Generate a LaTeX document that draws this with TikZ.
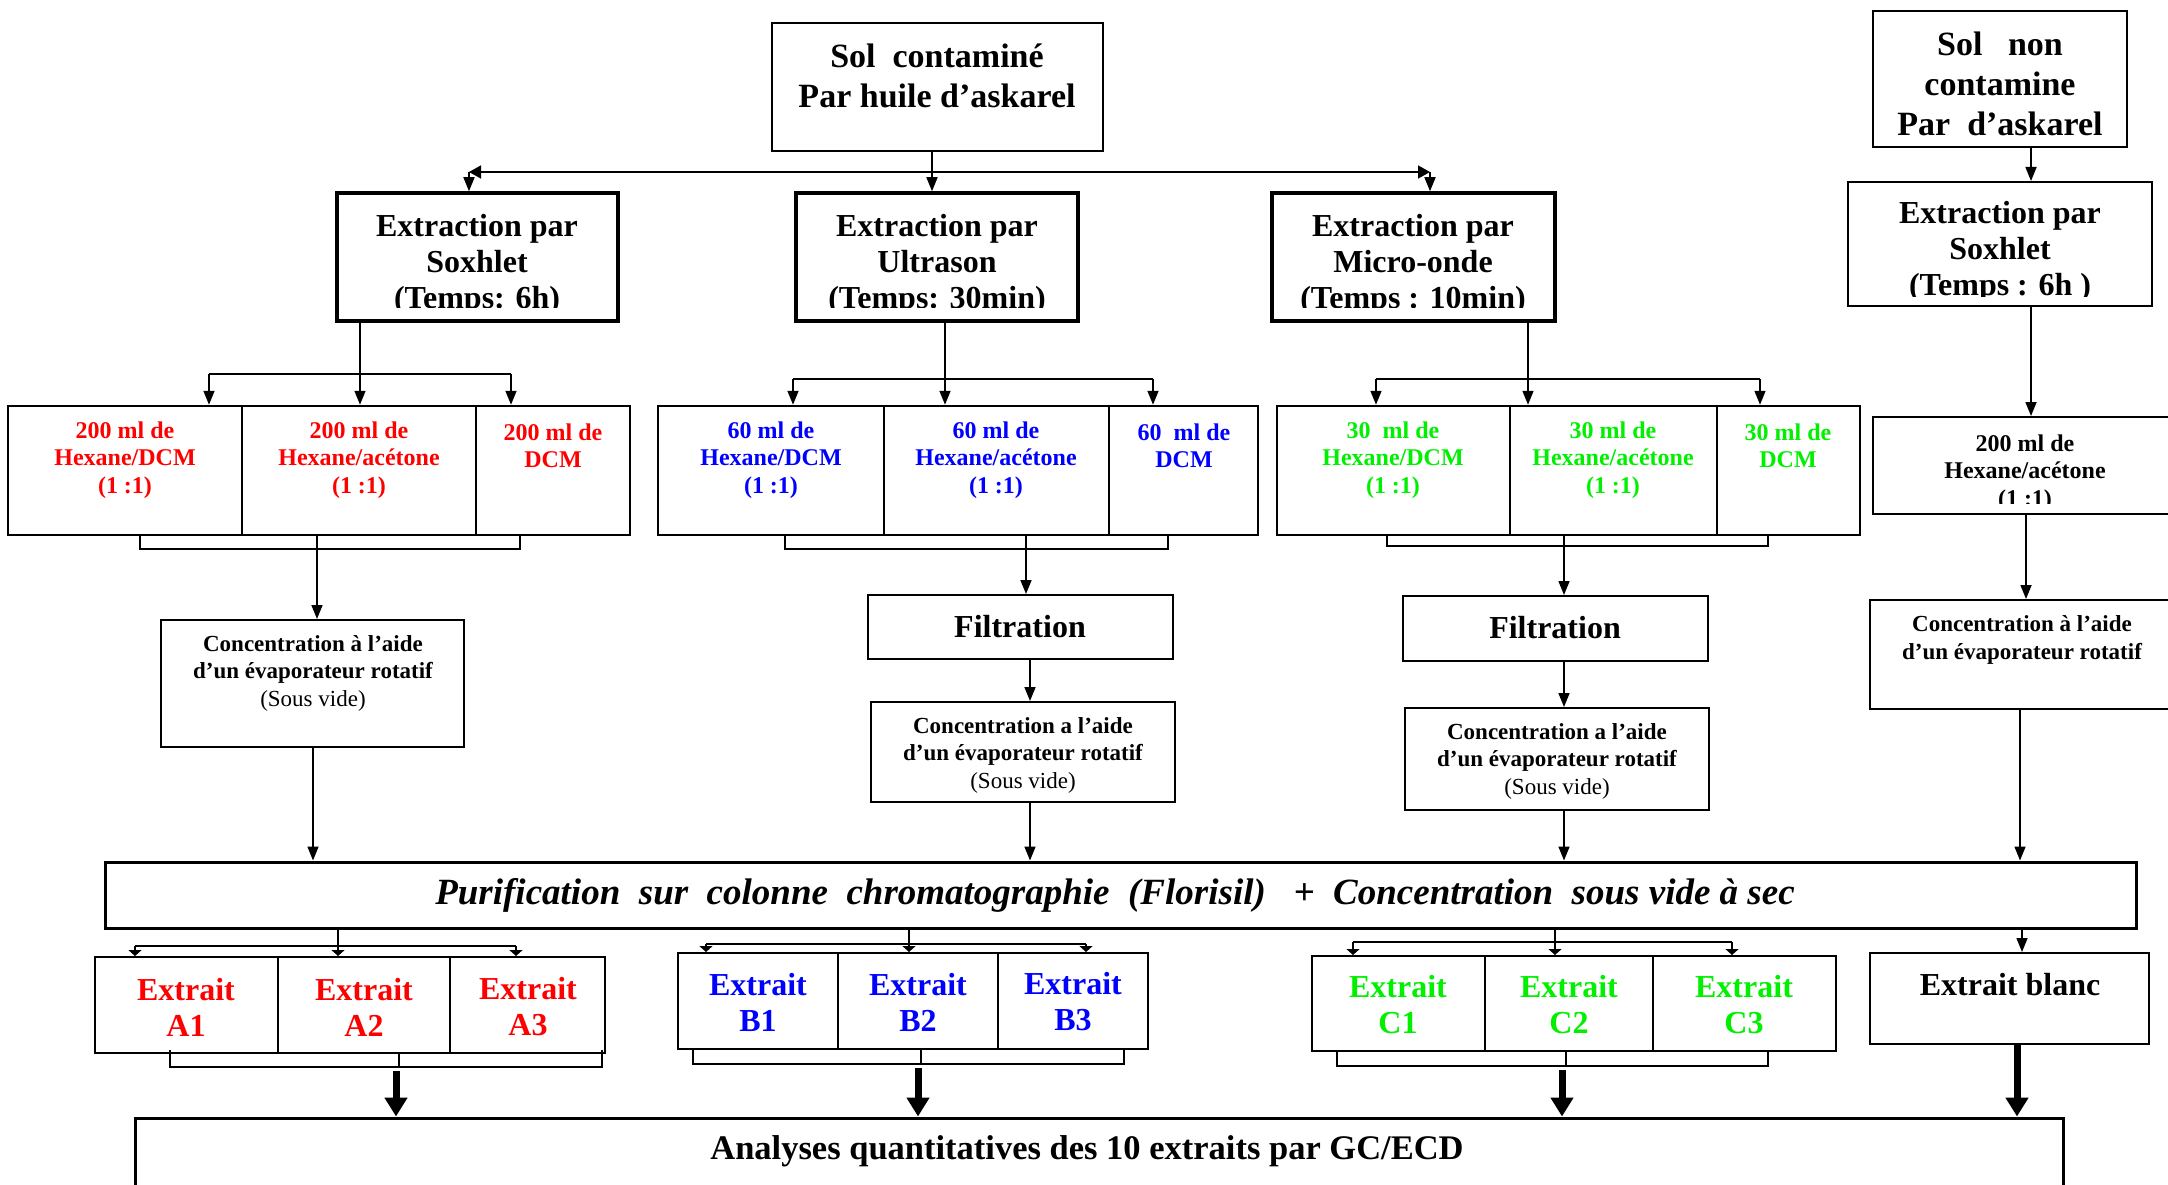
\documentclass[tikz,border=0pt]{standalone}
\usepackage{fontspec}
\setmainfont{Liberation Serif}
\usetikzlibrary{arrows.meta,fit}
\definecolor{cred}{RGB}{255,0,0}
\definecolor{cblue}{RGB}{0,0,255}
\definecolor{cgreen}{RGB}{0,240,0}
\newcommand\fSol{\fontsize{34}{40}\selectfont\bfseries}
\newcommand\fExt{\fontsize{32}{36}\selectfont\bfseries}
\newcommand\fSm{\fontsize{24}{27.5}\selectfont\bfseries}
\newcommand\fCo{\fontsize{23}{27.5}\selectfont\bfseries}
\newcommand\fBig{\fontsize{32}{36}\selectfont\bfseries}
\newcommand\fPur{\fontsize{37}{40}\selectfont\bfseries\itshape}
\newcommand\fAna{\fontsize{34.5}{38}\selectfont\bfseries}
\tikzset{
  bx/.style={draw, inner sep=0pt, line width=#1},
  bx/.default=2pt,
  tx/.style={inner sep=0pt, align=center},
  ln/.style={line width=1.6pt},
  arr/.style={line width=1.6pt, -{Triangle[length=14pt,width=11pt]}},
  sarr/.style={line width=1.6pt, -{Triangle[length=6pt,width=13pt]}},
  tarr/.style={line width=7pt, -{Triangle[length=19pt,width=22pt]}},
  harr/.style={line width=1.6pt, -{Triangle[length=12pt,width=13pt]}},
}
\begin{document}
\begin{tikzpicture}[x=1pt,y=-1pt]
\useasboundingbox[fill=white] (0,0) rectangle (2168,1185);

% ---------- top ----------
\node[bx=2pt, fit={(772,23) (1103,151)}] (solc) {};
\node[tx, font=\fSol] (solct) at (937,76) {Sol\ \ contaminé\\Par huile d’askarel};

\node[bx=2pt, fit={(1873,11) (2127,147)}] (soln) {};
\node[tx, font=\fSol] (solnt) at (2000,84) {Sol\ \ \ non\\contamine\\Par\ \ d’askarel};

% extraction boxes
\node[bx=3.5pt, fit={(337,193) (618,321)}] (exs) {};
\node[bx=3.5pt, fit={(796,193) (1078,321)}] (exu) {};
\node[bx=3.5pt, fit={(1272,193) (1555,321)}] (exm) {};
\node[bx=2pt, fit={(1848,182) (2152,306)}] (exr) {};
\begin{scope}
\clip (337,193) rectangle (618,307);
\node[tx, font=\fExt] (exst) at (477,265) {Extraction par\\Soxhlet\\(Temps: 6h)};
\end{scope}
\begin{scope}
\clip (796,193) rectangle (1078,307);
\node[tx, font=\fExt] (exut) at (937,265) {Extraction par\\Ultrason\\(Temps: 30min)};
\end{scope}
\begin{scope}
\clip (1272,193) rectangle (1555,307);
\node[tx, font=\fExt] (exmt) at (1413,265) {Extraction par\\Micro-onde\\(Temps : 10min)};
\end{scope}
\begin{scope}
\clip (1848,182) rectangle (2152,296);
\node[tx, font=\fExt] (exrt) at (2000,252) {Extraction par\\Soxhlet\\(Temps : 6h )};
\end{scope}

% top connectors
\coordinate (hl) at (469,172);
\coordinate (hr) at (1430,172);
\coordinate (hm) at (932,172);
\draw[arr] (solc.south -| hm) -- (exu.north -| hm);
\draw[harr] (hm) -- (hl);
\draw[harr] (hm) -- (hr);
\draw[arr] (hl) -- (exs.north -| hl);
\draw[arr] (hr) -- (exm.north -| hr);
\coordinate (rx) at (2031,0);
\draw[arr] (soln.south -| rx) -- (exr.north -| rx);

% ---------- solvent cells ----------
% red
\node[bx=2.5pt, fit={(8,406) (242,535)}] (r1) {};
\node[bx=2.5pt, fit={(242,406) (476,535)}] (r2) {};
\node[bx=2.5pt, fit={(476,406) (630,535)}] (r3) {};
\node[tx, font=\fSm, text=cred] (r1t) at (125,460) {200 ml de\\Hexane/DCM\\(1 :1)};
\node[tx, font=\fSm, text=cred] (r2t) at (359,460) {200 ml de\\Hexane/acétone\\(1 :1)};
\node[tx, font=\fSm, text=cred] (r3t) at (553,446) {200 ml de\\DCM};
% blue
\node[bx=2.5pt, fit={(658,406) (884,535)}] (b1) {};
\node[bx=2.5pt, fit={(884,406) (1109,535)}] (b2) {};
\node[bx=2.5pt, fit={(1109,406) (1258,535)}] (b3) {};
\node[tx, font=\fSm, text=cblue] (b1t) at (771,460) {60 ml de\\Hexane/DCM\\(1 :1)};
\node[tx, font=\fSm, text=cblue] (b2t) at (996,460) {60 ml de\\Hexane/acétone\\(1 :1)};
\node[tx, font=\fSm, text=cblue] (b3t) at (1184,446) {60\ \ ml de\\DCM};
% green
\node[bx=2.5pt, fit={(1277,406) (1510,535)}] (g1) {};
\node[bx=2.5pt, fit={(1510,406) (1717,535)}] (g2) {};
\node[bx=2.5pt, fit={(1717,406) (1860,535)}] (g3) {};
\node[tx, font=\fSm, text=cgreen] (g1t) at (1393,460) {30\ \ ml de\\Hexane/DCM\\(1 :1)};
\node[tx, font=\fSm, text=cgreen] (g2t) at (1613,460) {30 ml de\\Hexane/acétone\\(1 :1)};
\node[tx, font=\fSm, text=cgreen] (g3t) at (1788,446) {30 ml de\\DCM};
% black
\node[bx=2pt, fit={(1873,417) (2180,514)}] (k1) {};
\begin{scope}
\clip (1873,417) rectangle (2168,503);
\node[tx, font=\fSm] (k1t) at (2025,473) {200 ml de\\Hexane/acétone\\(1 :1)};
\end{scope}

% branches extraction -> cells
\coordinate (sx) at (360,374);
\coordinate (ux) at (945,379);
\coordinate (mx) at (1528,379);
\draw[ln] (exs.south -| sx) -- (sx);
\draw[ln] (209,374) coordinate (sl) -- (511,374) coordinate (sr);
\draw[arr] (sx) -- (r2.north -| sx);
\draw[arr] (sl) -- (r1.north -| sl);
\draw[arr] (sr) -- (r3.north -| sr);
\draw[ln] (exu.south -| ux) -- (ux);
\draw[ln] (793,379) coordinate (ul) -- (1153,379) coordinate (ur);
\draw[arr] (ux) -- (b2.north -| ux);
\draw[arr] (ul) -- (b1.north -| ul);
\draw[arr] (ur) -- (b3.north -| ur);
\draw[ln] (exm.south -| mx) -- (mx);
\draw[ln] (1376,379) coordinate (ml) -- (1760,379) coordinate (mr);
\draw[arr] (mx) -- (g2.north -| mx);
\draw[arr] (ml) -- (g1.north -| ml);
\draw[arr] (mr) -- (g3.north -| mr);
\draw[arr] (exr.south -| rx) -- (k1.north -| rx);

% brackets under cells
\draw[ln] (140,535) -- (140,549) -- (520,549) -- (520,535);
\draw[ln] (785,535) -- (785,549) -- (1168,549) -- (1168,535);
\draw[ln] (1387,535) -- (1387,546) -- (1768,546) -- (1768,535);

% ---------- middle ----------
\node[bx=2pt, fit={(161,620) (464,747)}] (cl) {};
\node[tx, font=\fCo] (clt) at (313,673) {Concentration à l’aide\\d’un évaporateur rotatif\\{\mdseries (Sous vide)}};
\node[bx=2pt, fit={(868,595) (1173,659)}] (fb) {};
\node[tx, font=\fBig] (fbt) at (1020,627) {Filtration};
\node[bx=2pt, fit={(871,702) (1175,802)}] (cb) {};
\node[tx, font=\fCo] (cbt) at (1023,755) {Concentration a l’aide\\d’un évaporateur rotatif\\{\mdseries (Sous vide)}};
\node[bx=2pt, fit={(1403,596) (1708,661)}] (fg) {};
\node[tx, font=\fBig] (fgt) at (1555,628) {Filtration};
\node[bx=2pt, fit={(1405,708) (1709,810)}] (cg) {};
\node[tx, font=\fCo] (cgt) at (1557,761) {Concentration a l’aide\\d’un évaporateur rotatif\\{\mdseries (Sous vide)}};
\node[bx=2pt, fit={(1870,600) (2180,709)}] (cr) {};
\node[tx, font=\fCo] (crt) at (2022,640) {Concentration à l’aide\\d’un évaporateur rotatif};

\coordinate (c1x) at (317,0);
\coordinate (c2x) at (1026,0);
\coordinate (c3x) at (1564,0);
\draw[arr] (r2.south -| c1x) -- (cl.north -| c1x);
\draw[arr] (b2.south -| c2x) -- (fb.north -| c2x);
\draw[arr] (g2.south -| c3x) -- (fg.north -| c3x);
\draw[arr] (fb.south -| 1030,0) -- (cb.north -| 1030,0);
\draw[arr] (fg.south -| c3x) -- (cg.north -| c3x);
\coordinate (kx) at (2026,0);
\draw[arr] (k1.south -| kx) -- (cr.north -| kx);

% purification
\node[bx=3pt, fit={(105,862) (2136,928)}] (pur) {};
\node[tx, font=\fPur] (purt) at (1115,895) {Purification~~sur~~colonne~~chromatographie~~(Florisil)~~~+~~Concentration~~sous vide à sec};
\draw[arr] (cl.south -| 313,0) -- (pur.north -| 313,0);
\draw[arr] (cb.south -| 1030,0) -- (pur.north -| 1030,0);
\draw[arr] (cg.south -| c3x) -- (pur.north -| c3x);
\draw[arr] (cr.south -| 2020,0) -- (pur.north -| 2020,0);

% ---------- extracts ----------
\node[bx=2pt, fit={(95,957) (278,1053)}] (a1) {};
\node[bx=2pt, fit={(278,957) (450,1053)}] (a2) {};
\node[bx=2pt, fit={(450,957) (605,1053)}] (a3) {};
\node[tx, font=\fBig, text=cred] (a1t) at (186,1007) {Extrait\\A1};
\node[tx, font=\fBig, text=cred] (a2t) at (364,1007) {Extrait\\A2};
\node[tx, font=\fBig, text=cred] (a3t) at (528,1007) {Extrait\\A3};
\node[bx=2pt, fit={(678,953) (838,1049)}] (bb1) {};
\node[bx=2pt, fit={(838,953) (998,1049)}] (bb2) {};
\node[bx=2pt, fit={(998,953) (1148,1049)}] (bb3) {};
\node[tx, font=\fBig, text=cblue] (bb1t) at (758,1002) {Extrait\\B1};
\node[tx, font=\fBig, text=cblue] (bb2t) at (918,1002) {Extrait\\B2};
\node[tx, font=\fBig, text=cblue] (bb3t) at (1073,1002) {Extrait\\B3};
\node[bx=2pt, fit={(1312,956) (1485,1051)}] (cc1) {};
\node[bx=2pt, fit={(1485,956) (1653,1051)}] (cc2) {};
\node[bx=2pt, fit={(1653,956) (1836,1051)}] (cc3) {};
\node[tx, font=\fBig, text=cgreen] (cc1t) at (1398,1005) {Extrait\\C1};
\node[tx, font=\fBig, text=cgreen] (cc2t) at (1569,1005) {Extrait\\C2};
\node[tx, font=\fBig, text=cgreen] (cc3t) at (1744,1005) {Extrait\\C3};
\node[bx=2pt, fit={(1870,953) (2149,1044)}] (blc) {};
\node[tx, font=\fBig] (blct) at (2010,985) {Extrait blanc};

% purification -> extracts
\draw[ln] (pur.south -| 338,0) -- (338,946);
\draw[ln] (135,946) coordinate (pa1) -- (516,946) coordinate (pa3);
\draw[sarr] (pa1) -- (a1.north -| pa1);
\draw[sarr] (338,946) -- (a2.north -| 338,0);
\draw[sarr] (pa3) -- (a3.north -| pa3);
\draw[ln] (pur.south -| 909,0) -- (909,944);
\draw[ln] (706,944) coordinate (pb1) -- (1086,944) coordinate (pb3);
\draw[sarr] (pb1) -- (bb1.north -| pb1);
\draw[sarr] (909,944) -- (bb2.north -| 909,0);
\draw[sarr] (pb3) -- (bb3.north -| pb3);
\draw[ln] (pur.south -| 1555,0) -- (1555,942);
\draw[ln] (1353,942) coordinate (pc1) -- (1732,942) coordinate (pc3);
\draw[sarr] (pc1) -- (cc1.north -| pc1);
\draw[sarr] (1555,942) -- (cc2.north -| 1555,0);
\draw[sarr] (pc3) -- (cc3.north -| pc3);
\draw[arr] (pur.south -| 2022,0) -- (blc.north -| 2022,0);

% brackets under extracts
\draw[ln] (170,1050) -- (170,1067) -- (602,1067) -- (602,1050);
\draw[ln] (a2.south -| 399,0) -- (399,1067);
\draw[ln] (693,1049) -- (693,1064) -- (1124,1064) -- (1124,1049);
\draw[ln] (bb2.south -| 921,0) -- (921,1064);
\draw[ln] (1337,1051) -- (1337,1066) -- (1768,1066) -- (1768,1051);
\draw[ln] (cc2.south -| 1566,0) -- (1566,1066);

% analyses
\node[bx=3pt, fit={(135,1118) (2063,1200)}] (ana) {};
\node[tx, font=\fAna] (anat) at (1087,1151) {Analyses quantitatives des 10 extraits par GC/ECD};
\draw[tarr] (396,1071) coordinate (ta) -- (ana.north -| ta);
\draw[tarr] (918,1068) coordinate (tb) -- (ana.north -| tb);
\draw[tarr] (1562,1070) coordinate (tc) -- (ana.north -| tc);
\draw[tarr] (blc.south -| 2017,0) -- (ana.north -| 2017,0);
\end{tikzpicture}
\end{document}
